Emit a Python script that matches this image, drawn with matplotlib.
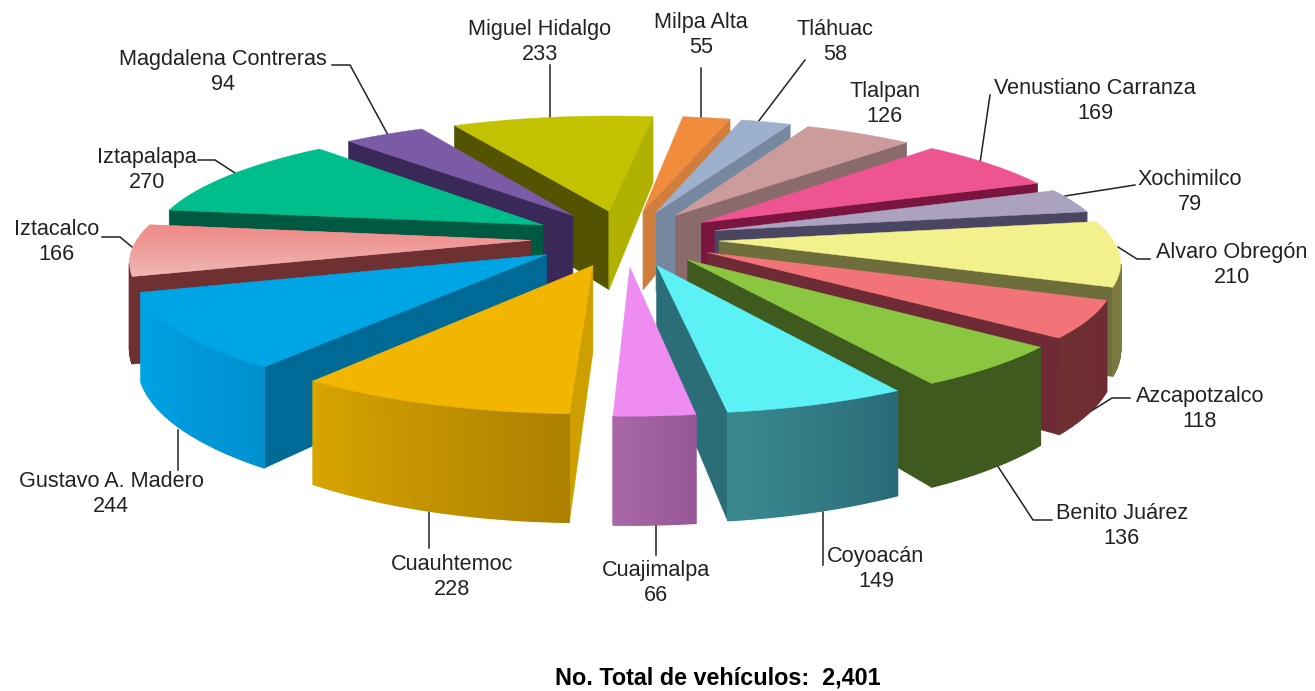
import numpy as np
import matplotlib
matplotlib.use('Agg')
import matplotlib.pyplot as plt
from matplotlib.colors import to_rgb
from matplotlib.path import Path
from matplotlib.patches import PathPatch

plt.rcParams['font.family'] = ['Liberation Sans', 'DejaVu Sans']

# datos
delegaciones = ['Alvaro Obregón', 'Azcapotzalco', 'Benito Juárez', 'Coyoacán', 'Cuajimalpa',
                'Cuauhtemoc', 'Gustavo A. Madero', 'Iztacalco', 'Iztapalapa',
                'Magdalena Contreras', 'Miguel Hidalgo', 'Milpa Alta', 'Tláhuac', 'Tlalpan',
                'Venustiano Carranza', 'Xochimilco']
vehiculos = [210, 118, 136, 149, 66, 228, 244, 166, 270, 94, 233, 55, 58, 126, 169, 79]
titulo = 'No. Total de vehículos:  2,401'

# colores: cara superior, cara lateral, borde inicio, borde fin
c_top = ['#F3F18C', '#F37478', '#8AC640', '#5CF2F5', '#EE8CF2', '#F2B500', '#00A5E6', '#F08A88',
         '#00BD8C', '#7C5BA6', '#C2C200', '#F08C3C', '#9DB0CE', '#CC9C9C', '#EE5590', '#ABA2C0']
c_side = ['#6E6E3C', '#6E2A35', '#3F5A1E', '#2C6E78', '#A0609F', '#CDA000', '#006A96', '#6E3030',
          '#005A42', '#3A2858', '#545400', '#D07E3C', '#75889F', '#8A6A6A', '#7A1540', '#4A4560']
c_side2 = ['#6E6E3C', '#6E2A35', '#3F5A1E', '#2C6E78', '#A0609F', '#CDA000', '#006A96', '#6E3030',
           '#005A42', '#3A2858', '#B0B000', '#D07E3C', '#75889F', '#8A6A6A', '#7A1540', '#4A4560']
c_rim0 = ['#7A7A40', '#6E3030', '#3F5A1E', '#3A8A90', '#A868A8', '#D8A400', '#00A5E6', '#6E3030',
          '#005A42', '#3A2858', '#545400', '#D07E3C', '#75889F', '#8A6A6A', '#7A1540', '#4A4560']
c_rim1 = ['#6E6E3C', '#6E2A35', '#3F5A1E', '#2A6A78', '#985898', '#AC8000', '#0090D0', '#6E3030',
          '#005A42', '#3A2858', '#545400', '#D07E3C', '#75889F', '#8A6A6A', '#7A1540', '#4A4560']

# posiciones de etiquetas y lineas guia (pixeles)
pos_etq = [(1232, 265), (1200, 409), (1122, 526), (876, 569), (656, 583), (452, 577), (111, 494),
           (57, 242), (147, 170), (223, 72), (540, 42), (701, 35), (835, 42), (885, 104),
           (1095, 101), (1190, 192)]
guias = [[(1150, 259), (1137, 259), (1118, 247)], [(1130, 398), (1112, 398), (1088, 413)],
         [(1052, 520), (1033, 520), (997, 465)], [(823, 512), (823, 565)], [(656, 525), (656, 555)],
         [(429, 512), (429, 548)], [(178, 430), (178, 470)], [(102, 237), (120, 237), (132, 247)],
         [(198, 160), (215, 160), (235, 173)], [(332, 65), (350, 65), (388, 135)],
         [(550, 65), (550, 118)], [(701, 68), (701, 118)], [(805, 60), (758, 122)], [],
         [(990, 95), (980, 163)], [(1135, 185), (1065, 196)]]

# geometria de la proyeccion
CX, CY = 625, 238
W, H = 393, 117
KP, KZ = 0.15, 0.20
ALTO = 82
EXPL = 0.24
INICIO = 80.3


def proy(X, Y, z=0.0):
    s = 1 / (1 + KP * Y)
    sz = 1 / (1 + KZ * Y)
    return CX + W * X * s, CY - H * Y * s + ALTO * z * sz


def area(pts):
    p = np.array(pts)
    return 0.5 * np.sum(p[:, 0] * np.roll(p[:, 1], -1) - np.roll(p[:, 0], -1) * p[:, 1])


def mezcla(a, b, t):
    a, b = np.array(to_rgb(a)), np.array(to_rgb(b))
    return tuple(a + (b - a) * t)


fig = plt.figure(figsize=(13.15, 6.91), dpi=100)
ax = fig.add_axes([0, 0, 1, 1])
ax.set_xlim(0, 1315)
ax.set_ylim(691, 0)
ax.axis('off')

total = sum(vehiculos)
cum = np.cumsum([0] + vehiculos) / total * 360 + INICIO
medios = (cum[:-1] + cum[1:]) / 2
# de atras hacia adelante
orden = np.argsort(-np.cos(np.radians(medios)))

for n, i in enumerate(orden):
    a0, a1 = cum[i], cum[i + 1]
    am = np.radians(medios[i])
    ox, oy = EXPL * np.sin(am), EXPL * np.cos(am)
    angs = np.radians(np.linspace(a0, a1, max(int(a1 - a0) * 2, 6)))
    bx, by = ox + np.sin(angs), oy + np.cos(angs)
    zo = 2 + n
    # caras radiales (solo las que miran a la camara)
    q0 = [proy(ox, oy), proy(bx[0], by[0]), proy(bx[0], by[0], 1), proy(ox, oy, 1)]
    q1 = [proy(ox, oy), proy(ox, oy, 1), proy(bx[-1], by[-1], 1), proy(bx[-1], by[-1])]
    if area(q0) < 0:
        ax.fill(*zip(*q0), color=c_side[i], lw=0.5, zorder=zo)
    if area(q1) < 0:
        ax.fill(*zip(*q1), color=c_side2[i], lw=0.5, zorder=zo)
    # borde exterior
    for j in range(len(angs) - 1):
        q = [proy(bx[j], by[j]), proy(bx[j + 1], by[j + 1]),
             proy(bx[j + 1], by[j + 1], 1), proy(bx[j], by[j], 1)]
        if area(q) < 0:
            col = mezcla(c_rim0[i], c_rim1[i], 1 - j / (len(angs) - 2))
            ax.fill(*zip(*q), color=col, lw=1.0, zorder=zo)
    # cara superior
    tapa = [proy(ox, oy)] + [proy(x, y) for x, y in zip(bx, by)]
    if delegaciones[i] == 'Iztacalco':
        ax.fill(*zip(*tapa), color=c_top[i], lw=0.3, zorder=zo)
        ys = [p[1] for p in tapa]
        grad = np.linspace(0, 1, 64)
        cols = np.array([mezcla('#F08A88', '#EDB8B4', t) for t in grad]).reshape(64, 1, 3)
        im = ax.imshow(cols, extent=(0, 1315, max(ys), min(ys)), aspect='auto', zorder=zo + 0.5)
        im.set_clip_path(PathPatch(Path(tapa + [tapa[0]]), transform=ax.transData))
    else:
        ax.fill(*zip(*tapa), color=c_top[i], lw=0.3, zorder=zo)

ax.set_xlim(0, 1315)
ax.set_ylim(691, 0)

for nombre, val, p, g in zip(delegaciones, vehiculos, pos_etq, guias):
    ax.text(p[0], p[1], f'{nombre}\n{val}', ha='center', va='center', fontsize=15.6,
            color='#222222', linespacing=1.22, zorder=50)
    if g:
        ax.plot(*zip(*g), color='#222222', lw=1.1, zorder=1)

ax.text(718, 678, titulo, ha='center', va='center', fontsize=16.8, fontweight='bold',
        color='black', zorder=50)

fig.savefig('out.png', dpi=100)
